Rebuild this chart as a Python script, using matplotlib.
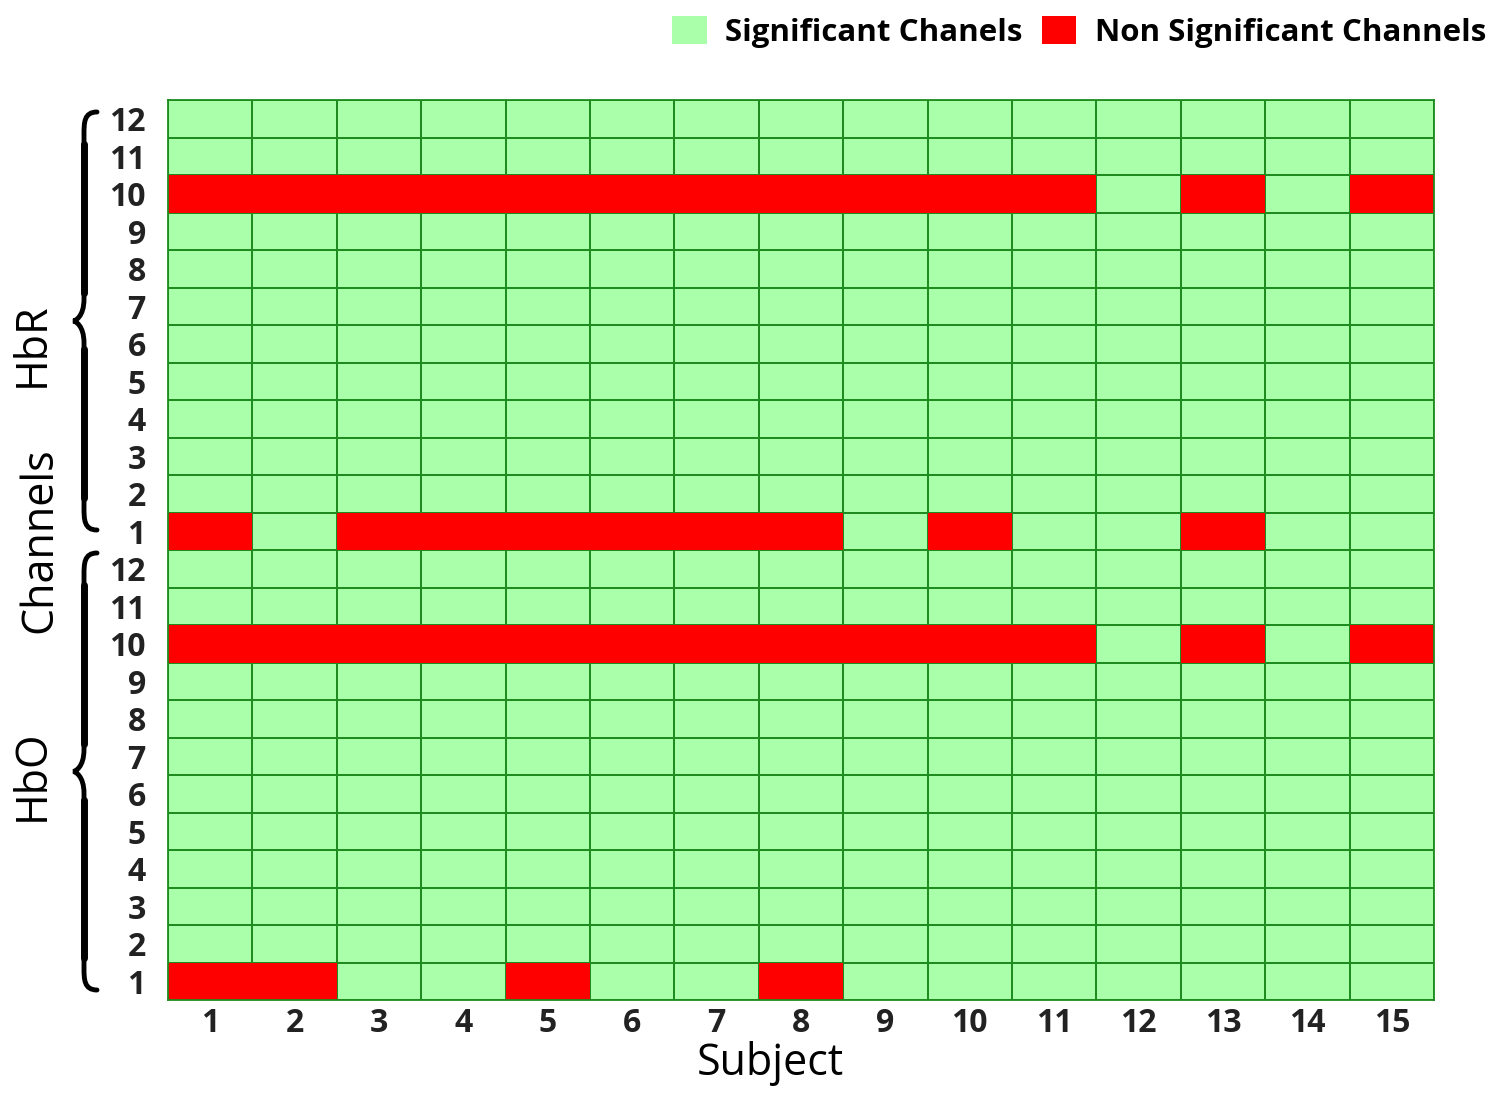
import numpy as np
import matplotlib
matplotlib.use("Agg")
import matplotlib.pyplot as plt
from matplotlib.patches import Patch, PathPatch
from matplotlib.path import Path
from matplotlib.colors import ListedColormap

plt.rcParams['font.family'] = ['Open Sans', 'DejaVu Sans']

# ---- data ----
subjects = list(range(1, 16))
channels = list(range(1, 13))
# subjects whose channel was NOT significant
hbo_ch1_nonsig = [1, 2, 5, 8]
hbo_ch10_nonsig = [1, 2, 3, 4, 5, 6, 7, 8, 9, 10, 11, 13, 15]
hbr_ch1_nonsig = [1, 3, 4, 5, 6, 7, 8, 10, 13]
hbr_ch10_nonsig = [1, 2, 3, 4, 5, 6, 7, 8, 9, 10, 11, 13, 15]
ytick_labels = [str(c) for c in channels] + [str(c) for c in channels]

# ---- build matrix: rows 0-11 HbO ch1..12, rows 12-23 HbR ch1..12 ----
nrow, ncol = 2 * len(channels), len(subjects)
nonsig = np.zeros((nrow, ncol), dtype=bool)
for s in hbo_ch1_nonsig:
    nonsig[0, s - 1] = True
for s in hbo_ch10_nonsig:
    nonsig[9, s - 1] = True
for s in hbr_ch1_nonsig:
    nonsig[12, s - 1] = True
for s in hbr_ch10_nonsig:
    nonsig[21, s - 1] = True

GREEN = '#aaffaa'
EDGE = '#1e8c1e'
RED = '#ff0000'

W, H = 1500, 1098
fig = plt.figure(figsize=(15, 10.98), dpi=100)
ax = fig.add_axes([168 / W, 1 - 1000 / H, (1434 - 168) / W, 900 / H])

xe = np.arange(ncol + 1)
ye = np.arange(nrow + 1)
ax.pcolormesh(xe, ye, np.zeros((nrow, ncol)), cmap=ListedColormap([GREEN]),
              edgecolors=EDGE, linewidth=1.3, vmin=0, vmax=1)
red = np.ma.masked_where(~nonsig, np.ones((nrow, ncol)))
ax.pcolormesh(xe, ye, red, cmap=ListedColormap([RED]), edgecolors='none',
              linewidth=0, vmin=0, vmax=1)

ax.set_xlim(0, ncol)
ax.set_ylim(0, nrow)
for sp in ax.spines.values():
    sp.set_color(EDGE)
    sp.set_linewidth(1.3)
ax.set_xticks(np.arange(ncol) + 0.5)
ax.set_xticklabels([str(s) for s in subjects], fontsize=23, fontweight='bold', color='#222222')
ax.set_yticks(np.arange(nrow) + 0.5)
ax.set_yticklabels(ytick_labels, fontsize=23, fontweight='bold', color='#222222')
ax.tick_params(axis='both', length=0)
ax.tick_params(axis='x', pad=5)
ax.tick_params(axis='y', pad=16)


def fx(x):
    return x / W


def fy(y):
    return 1 - y / H


fig.text(fx(770), fy(1064), 'Subject', fontsize=31, ha='center', va='center')
fig.text(fx(40), fy(540), 'Channels', rotation=90, fontsize=31, ha='center', va='center')
fig.text(fx(32), fy(345), 'HbR', rotation=90, fontsize=31, ha='center', va='center')
fig.text(fx(32), fy(775), 'HbO', rotation=90, fontsize=31, ha='center', va='center')


def brace(xr, xs, xl, ytop, ybot):
    ym = (ytop + ybot) / 2
    d = 22
    pts = [
        (xr, ytop),
        (xs, ytop), (xs, ytop + d / 2), (xs, ytop + d),
        (xs, ym - d),
        (xs, ym - 4), (xl + 2, ym), (xl, ym),
        (xl + 2, ym), (xs, ym + 4), (xs, ym + d),
        (xs, ybot - d),
        (xs, ybot - d / 2), (xs, ybot), (xr, ybot),
    ]
    codes = [Path.MOVETO,
             Path.CURVE4, Path.CURVE4, Path.CURVE4,
             Path.LINETO,
             Path.CURVE4, Path.CURVE4, Path.CURVE4,
             Path.CURVE4, Path.CURVE4, Path.CURVE4,
             Path.LINETO,
             Path.CURVE4, Path.CURVE4, Path.CURVE4]
    verts = [(fx(x), fy(y)) for x, y in pts]
    fig.add_artist(PathPatch(Path(verts, codes), transform=fig.transFigure, fill=False,
                             lw=3.5, edgecolor='black', capstyle='round'))
    # thicker middle parts of each arm
    for a, b in [(ytop + d + 10, ym - d - 6), (ym + d + 6, ybot - d - 10)]:
        seg = Path([(fx(xs), fy(a)), (fx(xs), fy(b))])
        fig.add_artist(PathPatch(seg, transform=fig.transFigure, fill=False,
                                 lw=5.0, edgecolor='black', capstyle='round'))


brace(97, 84, 73, 112, 530)
brace(97, 84, 73, 553, 990)

handles = [Patch(facecolor=GREEN, edgecolor='none', label='Significant Chanels'),
           Patch(facecolor=RED, edgecolor='none', label='Non Significant Channels')]
fig.legend(handles=handles, loc='upper right', bbox_to_anchor=(fx(1486), fy(16)), ncol=2,
           frameon=False, prop={'size': 22.5, 'weight': 'bold'}, handlelength=1.1,
           handleheight=1.0, handletextpad=0.6, columnspacing=0.6, borderaxespad=0,
           borderpad=0)

fig.savefig('out.png', dpi=100, facecolor='white')
